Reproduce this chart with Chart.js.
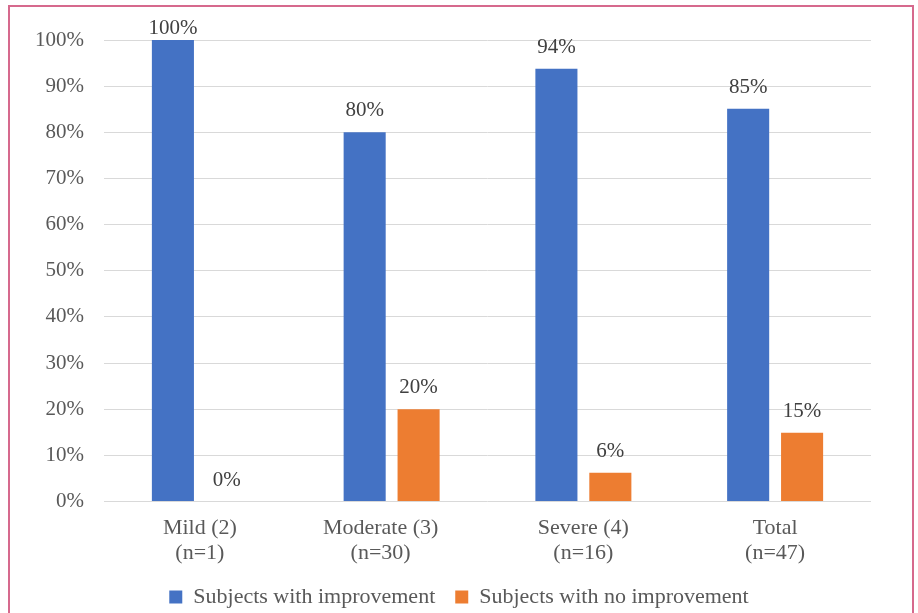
<!DOCTYPE html>
<html>
<head>
<meta charset="utf-8">
<script src="https://cdn.jsdelivr.net/npm/chart.js@4"></script>
<style>
  html, body { margin: 0; padding: 0; background: #fff; overflow: hidden; width: 918px; height: 613px; }
  #frame { position: absolute; left: 8px; top: 5px; width: 906px; height: 700px; box-sizing: border-box; border: 2px solid #d6698d; }
  #wrap { position: absolute; left: 0; top: 0; width: 918px; height: 630px; }
</style>
</head>
<body>
<div id="frame"></div>
<div id="wrap"><canvas id="chart"></canvas></div>
<script>
// datos
// (la etiqueta "Moderate" del original va algo desplazada a la izquierda: espacios al final)
const categories = [['Mild (2)', '(n=1)'], ['Moderate (3)    ', '(n=30)    '], ['Severe (4)', '(n=16)'], ['Total', '(n=47)']];
const improved = [100, 80, 93.75, 85.1];
const notImproved = [0, 20, 6.25, 14.9];
const seriesNames = ['Subjects with improvement', 'Subjects with no improvement'];

const serif = "'Liberation Serif', 'Times New Roman', serif";

// etiquetas de valor encima de cada barra
const valueLabels = {
    id: 'valueLabels',
    afterDatasetsDraw(chart) {
        const ctx = chart.ctx;
        ctx.save();
        ctx.font = '21px ' + serif;
        ctx.fillStyle = '#404040';
        ctx.textAlign = 'center';
        ctx.textBaseline = 'alphabetic';
        chart.data.datasets.forEach((ds, i) => {
            chart.getDatasetMeta(i).data.forEach((bar, j) => {
                const y = Math.max(bar.y - 16, 34);
                ctx.fillText(Math.round(ds.data[j]) + '%', bar.x, y);
            });
        });
        ctx.restore();
    }
};

new Chart(document.getElementById('chart'), {
    type: 'bar',
    data: {
        labels: categories,
        datasets: [{
            label: seriesNames[0],
            data: improved,
            backgroundColor: '#4472C4',
            categoryPercentage: 0.5625,
            barPercentage: 0.78
        }, {
            label: seriesNames[1],
            data: notImproved,
            backgroundColor: '#ED7D31',
            categoryPercentage: 0.5625,
            barPercentage: 0.78
        }]
    },
    options: {
        responsive: true,
        maintainAspectRatio: false,
        animation: false,
        layout: {
            padding: { top: 40, right: 0, bottom: 12, left: 0 }
        },
        plugins: {
            legend: {
                position: 'bottom',
                labels: {
                    color: '#595959',
                    font: { family: serif, size: 22 },
                    boxWidth: 13,
                    boxHeight: 13,
                    padding: 20
                }
            },
            tooltip: { enabled: false }
        },
        scales: {
            y: {
                min: 0,
                max: 100,
                afterFit(scale) { scale.width = 104; },
                border: { display: false },
                grid: { color: '#d9d9d9', lineWidth: 1, drawTicks: false },
                ticks: {
                    stepSize: 10,
                    padding: 20,
                    color: '#595959',
                    font: { family: serif, size: 21 },
                    callback: v => v + '%'
                }
            },
            // eje vacío a la derecha, sólo para reservar el margen
            yRight: {
                position: 'right',
                afterFit(scale) { scale.width = 47; },
                border: { display: false },
                grid: { display: false },
                ticks: { display: false }
            },
            x: {
                afterFit(scale) { scale.height = 64.5; },
                border: { display: false },
                grid: { display: false },
                ticks: {
                    padding: 6,
                    color: '#595959',
                    font: { family: serif, size: 22, lineHeight: 1.15 }
                }
            }
        }
    },
    plugins: [valueLabels]
});
</script>
</body>
</html>
